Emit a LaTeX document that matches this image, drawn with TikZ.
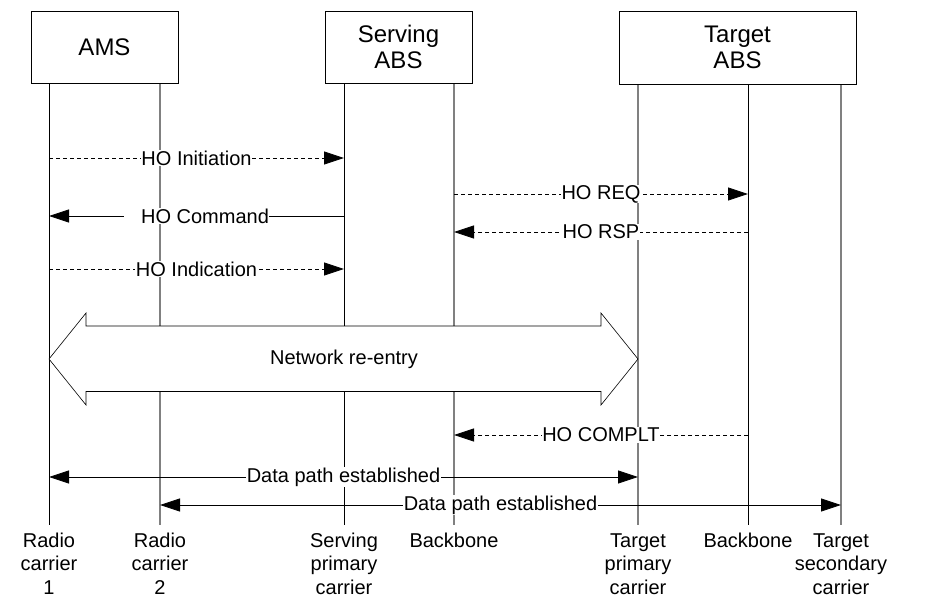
\documentclass[tikz,border=0pt]{standalone}
\usepackage{fontspec}
\setmainfont{Liberation Sans}
\usetikzlibrary{arrows.meta}
\begin{document}
\begin{tikzpicture}[x=1pt,y=-1pt,
  box/.style={draw, line width=0.8pt, fill=white, align=center, inner sep=0pt,
    font=\fontsize{24}{26}\selectfont},
  blife/.style={line width=1pt, draw=black},
  glife/.style={line width=1.3pt, draw=black!50},
  msg/.style={line width=0.8pt, -{Triangle[length=20pt,width=13pt]}},
  dmsg/.style={msg, dash pattern=on 4pt off 3pt},
  bmsg/.style={line width=0.8pt, {Triangle[length=20pt,width=13pt]}-{Triangle[length=20pt,width=13pt]}},
  lbl/.style={fill=white, inner sep=0.5pt, font=\fontsize{20}{24}\selectfont},
  bot/.style={align=center, anchor=base, inner sep=0pt, font=\fontsize{20}{23.5}\selectfont}]

\useasboundingbox (0,0) rectangle (927,608);

% lifelines
\foreach \n/\x in {c1/49, c2/160, sp/344, bb/454, tp/638, bb2/748, ts/841}{
  \coordinate (t\n) at (\x,83.5);
  \coordinate (b\n) at (\x,525);
}
\draw[blife] (tc1) -- (bc1);
\draw[glife] (tc2) -- (bc2);
\draw[blife] (tsp) -- (bsp);
\draw[glife] (tbb) -- (bbb);
\draw[glife] (ttp) -- (btp);
\draw[blife] (tbb2) -- (bbb2);
\draw[glife] (tts) -- (bts);

% boxes
\node[box, minimum width=147pt, minimum height=72pt] (ams) at (104.5,47) {AMS};
\node[box, minimum width=147pt, minimum height=72pt] (sabs) at (398.5,47) {Serving\\ABS};
\node[box, minimum width=237pt, minimum height=73pt] (tabs) at (737.5,47.5) {Target\\ABS};

% message end points
\coordinate (i1) at (49,158);  \coordinate (i2) at (344,158);
\coordinate (q1) at (454,194); \coordinate (q2) at (748,194);
\coordinate (c1) at (344,216); \coordinate (c2) at (49,216);
\coordinate (r1) at (748,232); \coordinate (r2) at (454,232);
\coordinate (n1) at (49,269);  \coordinate (n2) at (344,269);
\coordinate (k1) at (748,435); \coordinate (k2) at (454,435);
\coordinate (d1) at (49,477);  \coordinate (d2) at (638,477);
\coordinate (e1) at (160,505); \coordinate (e2) at (841,505);

\draw[dmsg] (i1) -- node[lbl] (li) {HO Initiation} (i2);
\draw[dmsg] (q1) -- node[lbl] (lq) {HO REQ} (q2);
\draw[msg]  (c1) -- node[lbl] (lc) {\hspace*{17pt}HO Command} (c2);
\draw[dmsg] (r1) -- node[lbl] (lr) {HO RSP} (r2);
\draw[dmsg] (n1) -- node[lbl] (ln) {HO Indication} (n2);

% network re-entry
\coordinate (ne1) at (49,359); \coordinate (ne2) at (638,359);
\draw[line width=0.6pt, fill=white] (ne1) -- (86,313) -- (86,326) -- (601,326) -- (601,313)
  -- (ne2) -- (601,405) -- (601,391.5) -- (86,391.5) -- (86,405) -- cycle;
\node[font=\fontsize{20}{24}\selectfont, inner sep=0pt] (nre) at (344,359) {Network re-entry};

\draw[dmsg] (k1) -- node[lbl] (lk) {HO COMPLT} (k2);
\draw[bmsg] (d1) -- node[lbl] (ld) {Data path established} (d2);
\draw[bmsg] (e1) -- node[lbl] (le) {Data path established} (e2);

% bottom labels (base = baseline of last line)
\node[bot] (x1) at (49,594) {Radio\\carrier\\1};
\node[bot] (x2) at (160,594) {Radio\\carrier\\2};
\node[bot] (x3) at (344,594) {Serving\\primary\\carrier};
\node[bot] (x4) at (454,547) {Backbone};
\node[bot] (x5) at (638,594) {Target\\primary\\carrier};
\node[bot] (x6) at (748,547) {Backbone};
\node[bot] (x7) at (841,594) {Target\\secondary\\carrier};
\end{tikzpicture}
\end{document}
